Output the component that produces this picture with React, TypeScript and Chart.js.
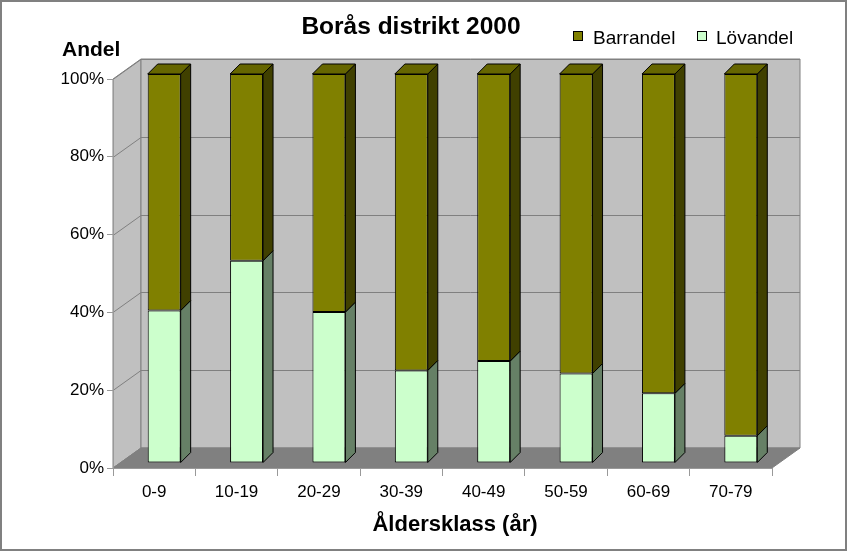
import React, { useEffect, useRef } from 'react';
import { Chart, registerables } from 'chart.js';

Chart.register(...registerables);

// ---- data ----
const categories = ['0-9', '10-19', '20-29', '30-39', '40-49', '50-59', '60-69', '70-79'];
const lovandel = [39.2, 52.0, 38.8, 23.8, 26.2, 23.0, 17.9, 7.0];
const barrandel = [60.8, 48.0, 61.2, 76.2, 73.8, 77.0, 82.1, 93.0];
const yTickValues = [0, 20, 40, 60, 80, 100];
const chartTitle = 'Borås distrikt 2000';
const yAxisTitle = 'Andel';
const xAxisTitle = 'Åldersklass (år)';
const legendNames = ['Barrandel', 'Lövandel'];

// ---- style ----
const FONT = '"Liberation Sans", Arial, sans-serif';
const WALL_DX = 28;
const WALL_DY = -20;
const BAR_SHIFT_X = 10;
const BAR_SHIFT_Y = -5;
const BAR_DEPTH = 10;
const OLIVE = '#808000';
const OLIVE_SIDE = '#404000';
const OLIVE_TOP = '#666600';
const GREEN = '#CCFFCC';
const GREEN_SIDE = '#668066';
const WALL = '#C0C0C0';
const FLOOR = '#808080';
const GRID = '#808080';

function poly(ctx: CanvasRenderingContext2D, pts: number[][], fill: string, stroke: string, lw = 1) {
  ctx.beginPath();
  ctx.moveTo(pts[0][0], pts[0][1]);
  for (let i = 1; i < pts.length; i++) ctx.lineTo(pts[i][0], pts[i][1]);
  ctx.closePath();
  ctx.fillStyle = fill;
  ctx.fill();
  if (stroke) {
    ctx.strokeStyle = stroke;
    ctx.lineWidth = lw;
    ctx.stroke();
  }
}

const threeD = {
  id: 'threeD',
  beforeDraw(chart: any) {
    const { ctx, chartArea: a, scales } = chart;
    const y = scales.y;
    const L = a.left, R = a.right, T = a.top, B = a.bottom;
    ctx.save();
    ctx.fillStyle = '#ffffff';
    ctx.fillRect(0, 0, chart.width, chart.height);
    // side wall
    poly(ctx, [[L, T], [L + WALL_DX, T + WALL_DY], [L + WALL_DX, B + WALL_DY], [L, B]], WALL, GRID);
    // back wall
    poly(ctx, [[L + WALL_DX, T + WALL_DY], [R + WALL_DX, T + WALL_DY], [R + WALL_DX, B + WALL_DY], [L + WALL_DX, B + WALL_DY]], WALL, GRID);
    // gridlines
    ctx.strokeStyle = GRID;
    ctx.lineWidth = 1;
    y.ticks.forEach((t: any) => {
      const yy = Math.round(y.getPixelForValue(t.value)) + 0.5;
      ctx.beginPath();
      ctx.moveTo(L, yy);
      ctx.lineTo(L + WALL_DX, yy + WALL_DY);
      ctx.lineTo(R + WALL_DX, yy + WALL_DY);
      ctx.stroke();
    });
    // floor
    poly(ctx, [[L, B], [R, B], [R + WALL_DX, B + WALL_DY], [L + WALL_DX, B + WALL_DY]], FLOOR, FLOOR);
    ctx.restore();
  },
  beforeDatasetsDraw(chart: any) {
    chart.ctx.save();
    chart.ctx.translate(BAR_SHIFT_X, BAR_SHIFT_Y);
  },
  afterDatasetsDraw(chart: any) {
    const ctx = chart.ctx;
    const n = chart.data.datasets.length;
    for (let d = 0; d < n; d++) {
      const meta = chart.getDatasetMeta(d);
      const sideColor = d === 0 ? GREEN_SIDE : OLIVE_SIDE;
      meta.data.forEach((bar: any) => {
        const p = bar.getProps(['x', 'y', 'base', 'width'], true);
        const left = p.x - p.width / 2;
        const right = p.x + p.width / 2;
        const top = Math.min(p.y, p.base);
        const bot = Math.max(p.y, p.base);
        poly(ctx, [[right, top], [right + BAR_DEPTH, top - BAR_DEPTH], [right + BAR_DEPTH, bot - BAR_DEPTH], [right, bot]], sideColor, '#000');
        if (d === n - 1) {
          poly(ctx, [[left, top], [right, top], [right + BAR_DEPTH, top - BAR_DEPTH], [left + BAR_DEPTH, top - BAR_DEPTH]], OLIVE_TOP, '#000');
        }
      });
    }
    ctx.restore();
  },
  afterDraw(chart: any) {
    const ctx = chart.ctx as CanvasRenderingContext2D;
    ctx.save();
    ctx.fillStyle = '#000';
    ctx.textBaseline = 'alphabetic';
    ctx.textAlign = 'left';
    const drawCentered = (text: string, cx: number, by: number) => {
      const w = ctx.measureText(text).width;
      ctx.fillText(text, cx - w / 2, by);
    };
    // title
    ctx.font = `bold 24.5px ${FONT}`;
    drawCentered(chartTitle, 411, 34);
    // y title
    ctx.font = `bold 21px ${FONT}`;
    ctx.fillText(yAxisTitle, 62, 56);
    // x title
    ctx.font = `bold 22px ${FONT}`;
    drawCentered(xAxisTitle, 455, 531);
    // legend
    ctx.font = `19px ${FONT}`;
    const items = [
      { name: legendNames[0], color: OLIVE, bx: 573, tx: 593 },
      { name: legendNames[1], color: GREEN, bx: 697, tx: 716 },
    ];
    items.forEach((it) => {
      ctx.fillStyle = it.color;
      ctx.fillRect(it.bx + 0.5, 31.5, 9, 9);
      ctx.strokeStyle = '#000';
      ctx.lineWidth = 1;
      ctx.strokeRect(it.bx + 0.5, 31.5, 9, 9);
      ctx.fillStyle = '#000';
      ctx.fillText(it.name, it.tx, 44);
    });
    // outer border
    ctx.strokeStyle = '#808080';
    ctx.lineWidth = 2;
    ctx.strokeRect(1, 1, chart.width - 2, chart.height - 2);
    ctx.restore();
  },
};

export default function App() {
  const ref = useRef<HTMLCanvasElement | null>(null);
  useEffect(() => {
    if (!ref.current) return;
    const chart = new Chart(ref.current, {
      type: 'bar',
      data: {
        labels: categories,
        datasets: [
          {
            label: legendNames[1],
            data: lovandel,
            backgroundColor: GREEN,
            borderColor: '#000',
            borderWidth: 1,
            borderSkipped: false,
          },
          {
            label: legendNames[0],
            data: barrandel,
            backgroundColor: OLIVE,
            borderColor: '#000',
            borderWidth: 1,
            borderSkipped: false,
          },
        ],
      },
      options: {
        responsive: false,
        animation: false,
        devicePixelRatio: 1,
        datasets: { bar: { barPercentage: 0.4, categoryPercentage: 1 } },
        layout: { padding: { left: 53, right: 75, top: 79, bottom: 43 } },
        plugins: {
          legend: { display: false },
          title: { display: false },
          tooltip: { enabled: false },
        },
        scales: {
          x: {
            stacked: true,
            afterFit: (s: any) => { s.height = 40; },
            grid: { drawOnChartArea: false, drawTicks: true, tickLength: 8, color: '#999999' },
            border: { display: true, color: '#999999' },
            ticks: { color: '#000', font: { family: FONT, size: 17 }, padding: 6 },
          },
          y: {
            stacked: true,
            min: 0,
            max: 100,
            afterFit: (s: any) => { s.width = 60; },
            afterBuildTicks: (s: any) => { s.ticks = yTickValues.map((v) => ({ value: v })); },
            grid: { drawOnChartArea: false, drawTicks: true, tickLength: 6, color: '#999999' },
            border: { display: true, color: '#999999' },
            ticks: {
              color: '#000',
              font: { family: FONT, size: 17 },
              padding: 3,
              callback: (v: any) => `${v}%`,
            },
          },
        },
      },
      plugins: [threeD],
    });
    return () => chart.destroy();
  }, []);
  return (
    <div style={{ position: 'absolute', left: 0, top: 0, width: 847, height: 551 }}>
      <canvas ref={ref} width={847} height={551} style={{ display: 'block' }} />
    </div>
  );
}
